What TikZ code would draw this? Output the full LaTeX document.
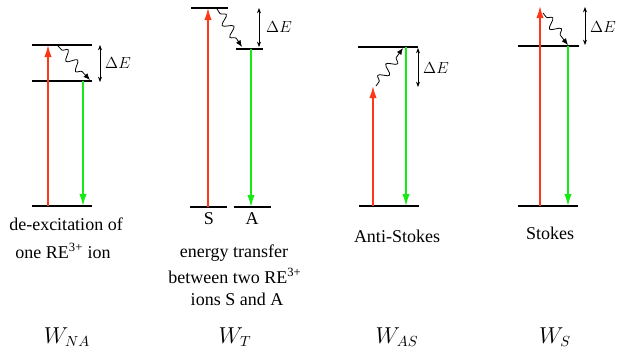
\documentclass[tikz,border=0pt]{standalone}
\usepackage[no-math]{fontspec}
\setmainfont{Liberation Serif}
\newfontfamily\tnrfont{Liberation Serif}
\usetikzlibrary{arrows.meta,decorations.pathmorphing}
\definecolor{exred}{RGB}{255,55,25}
\definecolor{emgreen}{RGB}{20,235,20}
\tikzset{
  level/.style={line width=1.1pt,black},
  uparrow/.style={line width=1.2pt,exred,-{Latex[length=9pt,width=5.5pt]}},
  downarrow/.style={line width=1.2pt,emgreen,-{Latex[length=9pt,width=5.5pt]}},
  wavy/.style={line width=0.6pt,black,-{Latex[length=5pt,width=4pt]},
    decorate,decoration={snake,amplitude=3.6pt,segment length=10.5pt,pre length=4pt,post length=5pt}},
  gap/.style={line width=0.5pt,black,{Stealth[length=4pt,width=3pt]}-{Stealth[length=4pt,width=3pt]}},
  dE/.style={font=\fontsize{12.5}{14}\selectfont,inner sep=0pt},
  lbl/.style={font=\tnrfont\fontsize{13.5}{16}\selectfont,inner sep=0pt,align=center},
  wlbl/.style={font=\fontsize{16}{18}\selectfont,inner sep=0pt}
}
\begin{document}
\begin{tikzpicture}[x=0.75pt,y=-0.75pt]
\useasboundingbox (0,0) rectangle (618,351);
% ---------- Panel 1 ----------
\coordinate (a1l) at (32,45);  \coordinate (a1r) at (92,45);
\coordinate (a2l) at (32,81);  \coordinate (a2r) at (92,81);
\coordinate (a0l) at (32,206); \coordinate (a0r) at (92,206);
\draw[level] (a1l) -- (a1r);
\draw[level] (a2l) -- (a2r);
\draw[level] (a0l) -- (a0r);
\coordinate (ar0) at (48,206); \coordinate (ar1) at (48,45);
\draw[uparrow] (ar0) -- (ar1);
\coordinate (ag0) at (83,81); \coordinate (ag1) at (83,206);
\draw[downarrow] (ag0) -- (ag1);
\coordinate (aw0) at (58,46); \coordinate (aw1) at (90,80);
\draw[wavy] (aw0) -- (aw1);
\coordinate (ad0) at (100,45); \coordinate (ad1) at (100,82);
\draw[gap] (ad0) -- (ad1);
\node[dE] (aE) at (118,63) {$\Delta E$};
\node[lbl] (at1) at (66,224) {de-excitation of};
\node[lbl] (at2) at (63,251) {one RE\textsuperscript{3+} ion};
\node[wlbl] (aW) at (67,337) {$W_{NA}$};
% ---------- Panel 2 ----------
\coordinate (b1l) at (191,8);   \coordinate (b1r) at (228,8);
\coordinate (b2l) at (236,49);  \coordinate (b2r) at (263,49);
\coordinate (bSl) at (190,207); \coordinate (bSr) at (227,207);
\coordinate (bAl) at (234,207); \coordinate (bAr) at (271,207);
\draw[level] (b1l) -- (b1r);
\draw[level] (b2l) -- (b2r);
\draw[level] (bSl) -- (bSr);
\draw[level] (bAl) -- (bAr);
\coordinate (br0) at (208,207); \coordinate (br1) at (208,8);
\draw[uparrow] (br0) -- (br1);
\coordinate (bg0) at (251,49); \coordinate (bg1) at (251,207);
\draw[downarrow] (bg0) -- (bg1);
\coordinate (bw0) at (217,9); \coordinate (bw1) at (242,47);
\draw[wavy] (bw0) -- (bw1);
\coordinate (bd0) at (259,8); \coordinate (bd1) at (259,47);
\draw[gap] (bd0) -- (bd1);
\node[dE] (bE) at (279,27) {$\Delta E$};
\node[lbl] (bS) at (209,219) {S};
\node[lbl] (bA) at (252,219) {A};
\node[lbl] (bt1) at (234,253) {energy transfer};
\node[lbl] (bt2) at (235,276) {between two RE\textsuperscript{3+}};
\node[lbl] (bt3) at (237,299) {ions S and A};
\node[wlbl] (bW) at (235,337) {$W_{T}$};
% ---------- Panel 3 ----------
\coordinate (c1l) at (358,47);  \coordinate (c1r) at (418,47);
\coordinate (c0l) at (359,206); \coordinate (c0r) at (419,206);
\draw[level] (c1l) -- (c1r);
\draw[level] (c0l) -- (c0r);
\coordinate (cr0) at (373,206); \coordinate (cr1) at (373,86);
\draw[uparrow] (cr0) -- (cr1);
\coordinate (cg0) at (406,47); \coordinate (cg1) at (406,206);
\draw[downarrow] (cg0) -- (cg1);
\coordinate (cw0) at (376,86); \coordinate (cw1) at (403,48);
\draw[wavy] (cw0) -- (cw1);
\coordinate (cd0) at (418,48); \coordinate (cd1) at (418,87);
\draw[gap] (cd0) -- (cd1);
\node[dE] (cE) at (436,68) {$\Delta E$};
\node[lbl] (ct) at (397,236) {Anti-Stokes};
\node[wlbl] (cW) at (397,337) {$W_{AS}$};
% ---------- Panel 4 ----------
\coordinate (d1l) at (518,46);  \coordinate (d1r) at (579,46);
\coordinate (d0l) at (518,206); \coordinate (d0r) at (578,206);
\draw[level] (d1l) -- (d1r);
\draw[level] (d0l) -- (d0r);
\coordinate (dr0) at (540,206); \coordinate (dr1) at (540,6);
\draw[uparrow] (dr0) -- (dr1);
\coordinate (dg0) at (568,46); \coordinate (dg1) at (568,206);
\draw[downarrow] (dg0) -- (dg1);
\coordinate (dw0) at (543,13); \coordinate (dw1) at (568,45);
\draw[wavy] (dw0) -- (dw1);
\coordinate (dd0) at (585,7); \coordinate (dd1) at (585,45);
\draw[gap] (dd0) -- (dd1);
\node[dE] (dE) at (603,27) {$\Delta E$};
\node[lbl] (dt) at (550,233) {Stokes};
\node[wlbl] (dW) at (555,337) {$W_{S}$};
\end{tikzpicture}
\end{document}
